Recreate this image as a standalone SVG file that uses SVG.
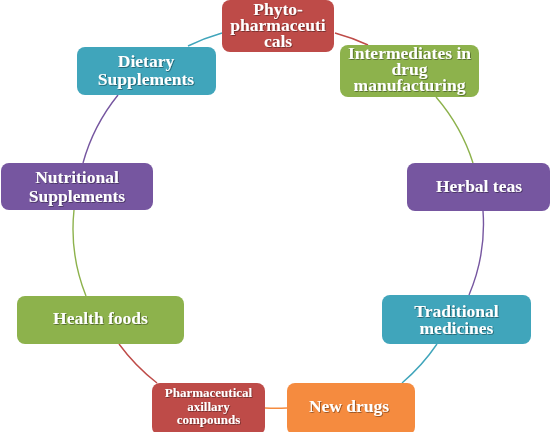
<svg xmlns="http://www.w3.org/2000/svg" width="553" height="432" viewBox="0 0 553 432">
<defs>
<style>
.box{stroke:none}
.red{fill:#BE4B48}
.green{fill:#8DB24C}
.teal{fill:#40A5BB}
.purple{fill:#7656A0}
.orange{fill:#F58B3F}
.t{font-family:"Liberation Serif","Times New Roman",serif;font-weight:bold;fill:#ffffff;text-anchor:middle;font-size:17.5px;filter:url(#sh)}
.s{font-size:13px}
.c{fill:none;stroke-width:1.4}
</style>
<filter id="sh" x="-10%" y="-20%" width="120%" height="150%">
<feDropShadow dx="0.8" dy="0.8" stdDeviation="0.5" flood-color="#000" flood-opacity="0.45"/>
</filter>
</defs>
<rect width="553" height="432" fill="#ffffff"/>
<g id="connectors">
<path class="c" stroke="#40A5BB" d="M188,46 A205,192 0 0 1 222,33"/>
<path class="c" stroke="#BE4B48" d="M335,33 A205,192 0 0 1 368,45"/>
<path class="c" stroke="#8DB24C" d="M436,97 A205,192 0 0 1 473,163"/>
<path class="c" stroke="#7656A0" d="M483,211 A205,192 0 0 1 469,295"/>
<path class="c" stroke="#40A5BB" d="M437,344 A205,192 0 0 1 402,383"/>
<path class="c" stroke="#F58B3F" d="M287,408 A205,192 0 0 1 265,408"/>
<path class="c" stroke="#BE4B48" d="M157,383 A205,192 0 0 1 119,344"/>
<path class="c" stroke="#8DB24C" d="M86,296 A205,192 0 0 1 74,210"/>
<path class="c" stroke="#7656A0" d="M83,163 A205,192 0 0 1 118,95"/>
</g>
<g id="phyto">
<rect class="box red" x="222" y="0" width="112" height="52" rx="8"/>
<text class="t" x="278" y="15">Phyto-</text>
<text class="t" x="278" y="31">pharmaceuti</text>
<text class="t" x="278" y="47">cals</text>
</g>
<g id="intermediates">
<rect class="box green" x="340" y="45" width="139" height="52" rx="8"/>
<text class="t" x="409.5" y="59">Intermediates  in</text>
<text class="t" x="409.5" y="75">drug</text>
<text class="t" x="409.5" y="91">manufacturing</text>
</g>
<g id="herbal">
<rect class="box purple" x="407" y="163" width="143" height="48" rx="8"/>
<text class="t" x="479" y="192">Herbal teas</text>
</g>
<g id="traditional">
<rect class="box teal" x="382" y="295" width="149" height="49" rx="8"/>
<text class="t" x="456.5" y="317">Traditional</text>
<text class="t" x="456.5" y="334">medicines</text>
</g>
<g id="newdrugs">
<rect class="box orange" x="287" y="383" width="128" height="52" rx="8"/>
<text class="t" x="349" y="412">New drugs</text>
</g>
<g id="pharmaceutical">
<rect class="box red" x="152" y="383" width="113" height="52" rx="8"/>
<text class="t s" x="208.5" y="397">Pharmaceutical</text>
<text class="t s" x="208.5" y="411">axillary</text>
<text class="t s" x="208.5" y="424">compounds</text>
</g>
<g id="health">
<rect class="box green" x="17" y="296" width="167" height="48" rx="8"/>
<text class="t" x="100.5" y="324">Health foods</text>
</g>
<g id="nutritional">
<rect class="box purple" x="1" y="163" width="152" height="47" rx="8"/>
<text class="t" x="77" y="183">Nutritional</text>
<text class="t" x="77" y="202">Supplements</text>
</g>
<g id="dietary">
<rect class="box teal" x="77" y="47" width="139" height="48" rx="8"/>
<text class="t" x="146" y="67">Dietary</text>
<text class="t" x="146" y="85">Supplements</text>
</g>
</svg>
